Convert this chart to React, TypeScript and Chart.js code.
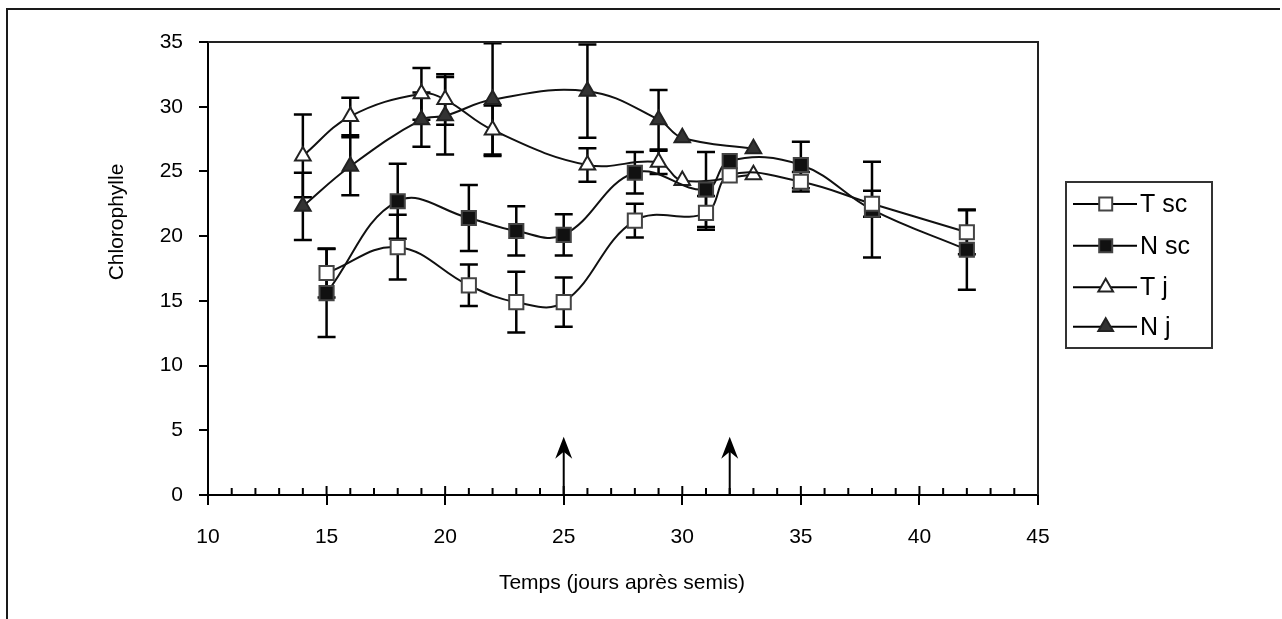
import { useEffect, useRef } from 'react';
import { Chart, registerables } from 'chart.js';

Chart.register(...registerables);

// ---- data ----
const daysSc = [15, 18, 21, 23, 25, 28, 31, 32, 35, 38, 42];
const tScValues = [17.15, 19.15, 16.2, 14.9, 14.9, 21.2, 21.8, 24.7, 24.2, 22.5, 20.3];
const tScErrors = [1.9, 2.5, 1.6, 2.35, 1.9, 1.3, 1.3, 0, 0.75, 1.0, 1.7];
const nScValues = [15.6, 22.7, 21.4, 20.4, 20.1, 24.9, 23.6, 25.8, 25.5, 22.05, 18.95];
const nScErrors = [3.4, 2.9, 2.55, 1.9, 1.6, 1.6, 2.9, 0, 1.8, 3.7, 3.1];

const daysJ = [14, 16, 19, 20, 22, 26, 29, 30, 33];
const tJValues = [26.2, 29.25, 31.0, 30.55, 28.2, 25.5, 25.7, 24.3, 24.75];
const tJErrors = [3.2, 1.45, 2.0, 1.95, 1.9, 1.3, 0.9, 0, 0];
const nJValues = [22.3, 25.4, 29.0, 29.3, 30.55, 31.2, 29.0, 27.6, 26.75];
const nJErrors = [2.6, 2.25, 2.1, 3.0, 4.35, 3.6, 2.3, 0, 0];

const seriesLabels = ['T sc', 'N sc', 'T j', 'N j'];
const arrowDays = [25, 32];
const arrowTipValue = 4.5;

const xMin = 10;
const xMax = 45;
const yMin = 0;
const yMax = 35;
const xTitle = 'Temps (jours après semis)';
const yTitle = 'Chlorophylle';

const FONT = '"Liberation Sans", Arial, Helvetica, sans-serif';

const errorSets = [tScErrors, nScErrors, tJErrors, nJErrors];

type Style = { shape: 'rect' | 'triangle'; fill: string; stroke: string };
const styles: Style[] = [
  { shape: 'rect', fill: '#ffffff', stroke: '#444444' },
  { shape: 'rect', fill: '#111111', stroke: '#444444' },
  { shape: 'triangle', fill: '#ffffff', stroke: '#222222' },
  { shape: 'triangle', fill: '#333333', stroke: '#222222' },
];

function drawMarker(ctx: CanvasRenderingContext2D, s: Style, x: number, y: number) {
  ctx.save();
  ctx.fillStyle = s.fill;
  ctx.strokeStyle = s.stroke;
  ctx.lineWidth = 2;
  ctx.beginPath();
  if (s.shape === 'rect') {
    ctx.rect(x - 6.5, y - 6.5, 13, 13);
  } else {
    const r = 8.5;
    ctx.moveTo(x, y - r);
    ctx.lineTo(x + r * 0.866, y + r * 0.5);
    ctx.lineTo(x - r * 0.866, y + r * 0.5);
    ctx.closePath();
  }
  ctx.fill();
  ctx.stroke();
  ctx.restore();
}

const customPlugin = {
  id: 'customDraw',
  beforeDatasetsDraw(chart: any) {
    const { ctx, scales } = chart;
    const xs = scales.x;
    const ys = scales.y;
    ctx.save();
    ctx.strokeStyle = '#000';
    ctx.lineWidth = 2.5;
    chart.data.datasets.forEach((ds: any, i: number) => {
      const errs = errorSets[i];
      ds.data.forEach((p: any, j: number) => {
        const e = errs[j];
        if (!e) return;
        const px = xs.getPixelForValue(p.x);
        const top = ys.getPixelForValue(p.y + e);
        const bot = ys.getPixelForValue(p.y - e);
        ctx.beginPath();
        ctx.moveTo(px, top);
        ctx.lineTo(px, bot);
        ctx.moveTo(px - 9, top);
        ctx.lineTo(px + 9, top);
        ctx.moveTo(px - 9, bot);
        ctx.lineTo(px + 9, bot);
        ctx.stroke();
      });
    });
    ctx.restore();
  },
  afterDraw(chart: any) {
    const { ctx, scales, chartArea } = chart;
    const xs = scales.x;
    const ys = scales.y;
    ctx.save();
    // outer frame (top and left)
    ctx.fillStyle = '#1a1a1a';
    ctx.fillRect(6, 8, 1274, 2);
    ctx.fillRect(6, 8, 2, 611);

    // plot frame top/right
    ctx.strokeStyle = '#222';
    ctx.lineWidth = 2;
    ctx.beginPath();
    ctx.moveTo(chartArea.left, chartArea.top);
    ctx.lineTo(chartArea.right, chartArea.top);
    ctx.lineTo(chartArea.right, chartArea.bottom);
    ctx.stroke();

    // inside x ticks
    ctx.strokeStyle = '#000';
    ctx.lineWidth = 2;
    ctx.beginPath();
    for (let v = xMin + 1; v < xMax; v++) {
      const px = xs.getPixelForValue(v);
      const len = v % 5 === 0 ? 9 : 7;
      ctx.moveTo(px, chartArea.bottom);
      ctx.lineTo(px, chartArea.bottom - len);
    }
    ctx.stroke();

    // arrows
    arrowDays.forEach((d) => {
      const px = xs.getPixelForValue(d);
      const tip = ys.getPixelForValue(arrowTipValue);
      const base = ys.getPixelForValue(0);
      ctx.strokeStyle = '#000';
      ctx.lineWidth = 2;
      ctx.beginPath();
      ctx.moveTo(px, base);
      ctx.lineTo(px, tip + 12);
      ctx.stroke();
      ctx.fillStyle = '#000';
      ctx.beginPath();
      ctx.moveTo(px, tip);
      ctx.lineTo(px + 8.5, tip + 22);
      ctx.lineTo(px, tip + 15);
      ctx.lineTo(px - 8.5, tip + 22);
      ctx.closePath();
      ctx.fill();
    });

    // axis titles
    ctx.fillStyle = '#000';
    ctx.font = `21px ${FONT}`;
    ctx.textAlign = 'center';
    ctx.textBaseline = 'middle';
    ctx.fillText(xTitle, 622, 583);
    ctx.save();
    ctx.translate(117, 222);
    ctx.rotate(-Math.PI / 2);
    ctx.fillText(yTitle, 0, 0);
    ctx.restore();

    // legend
    const lx = 1066, ly = 182, lw = 146, lh = 166;
    ctx.strokeStyle = '#333';
    ctx.lineWidth = 2;
    ctx.strokeRect(lx, ly, lw, lh);
    const rowY = [204, 245.7, 287.3, 326.7];
    ctx.font = `25px ${FONT}`;
    ctx.textAlign = 'left';
    seriesLabels.forEach((lab, i) => {
      const y = rowY[i];
      ctx.strokeStyle = '#000';
      ctx.lineWidth = 2;
      ctx.beginPath();
      ctx.moveTo(1073, y);
      ctx.lineTo(1137, y);
      ctx.stroke();
      drawMarker(ctx, styles[i], 1105.7, y);
      ctx.fillStyle = '#000';
      ctx.fillText(lab, 1140, y + 1);
    });
    ctx.restore();
  },
};

export default function App() {
  const ref = useRef<HTMLCanvasElement | null>(null);

  useEffect(() => {
    if (!ref.current) return;
    const seriesData = [
      daysSc.map((d, i) => ({ x: d, y: tScValues[i] })),
      daysSc.map((d, i) => ({ x: d, y: nScValues[i] })),
      daysJ.map((d, i) => ({ x: d, y: tJValues[i] })),
      daysJ.map((d, i) => ({ x: d, y: nJValues[i] })),
    ];
    const chart = new Chart(ref.current, {
      type: 'line',
      data: {
        datasets: seriesData.map((data, i) => ({
          label: seriesLabels[i],
          data,
          borderColor: '#111',
          borderWidth: 2,
          tension: 0.4,
          fill: false,
          pointStyle: styles[i].shape,
          pointRadius: styles[i].shape === 'rect' ? 10 : 9,
          pointBackgroundColor: styles[i].fill,
          pointBorderColor: styles[i].stroke,
          pointBorderWidth: 2,
          clip: false as any,
        })),
      },
      options: {
        animation: false,
        responsive: false,
        maintainAspectRatio: false,
        events: [],
        layout: { padding: { top: 42, right: 244, left: 0, bottom: 0 } },
        plugins: {
          legend: { display: false },
          tooltip: { enabled: false },
          title: { display: false },
        },
        scales: {
          x: {
            type: 'linear',
            min: xMin,
            max: xMax,
            afterFit: (s: any) => { s.height = 124; },
            ticks: {
              stepSize: 1,
              autoSkip: false,
              maxRotation: 0,
              padding: 20,
              color: '#000',
              font: { family: FONT, size: 21 },
              callback: (v: any) => (Number(v) % 5 === 0 ? String(v) : ''),
            },
            grid: {
              drawOnChartArea: false,
              drawTicks: true,
              tickLength: 10,
              lineWidth: 2,
              color: (c: any) => (c.tick && Number(c.tick.value) % 5 === 0 ? '#000' : 'rgba(0,0,0,0)'),
            },
            border: { display: true, color: '#000', width: 2 },
          },
          y: {
            type: 'linear',
            min: yMin,
            max: yMax,
            afterFit: (s: any) => { s.width = 208; },
            ticks: {
              stepSize: 5,
              padding: 16,
              color: '#000',
              font: { family: FONT, size: 21 },
            },
            grid: {
              drawOnChartArea: false,
              drawTicks: true,
              tickLength: 9,
              lineWidth: 2,
              color: '#000',
            },
            border: { display: true, color: '#000', width: 2 },
          },
        },
      },
      plugins: [customPlugin],
    } as any);
    return () => chart.destroy();
  }, []);

  return (
    <div style={{ position: 'absolute', left: 0, top: 0, width: 1282, height: 619 }}>
      <canvas ref={ref} width={1282} height={619} style={{ display: 'block', width: 1282, height: 619 }} />
    </div>
  );
}
